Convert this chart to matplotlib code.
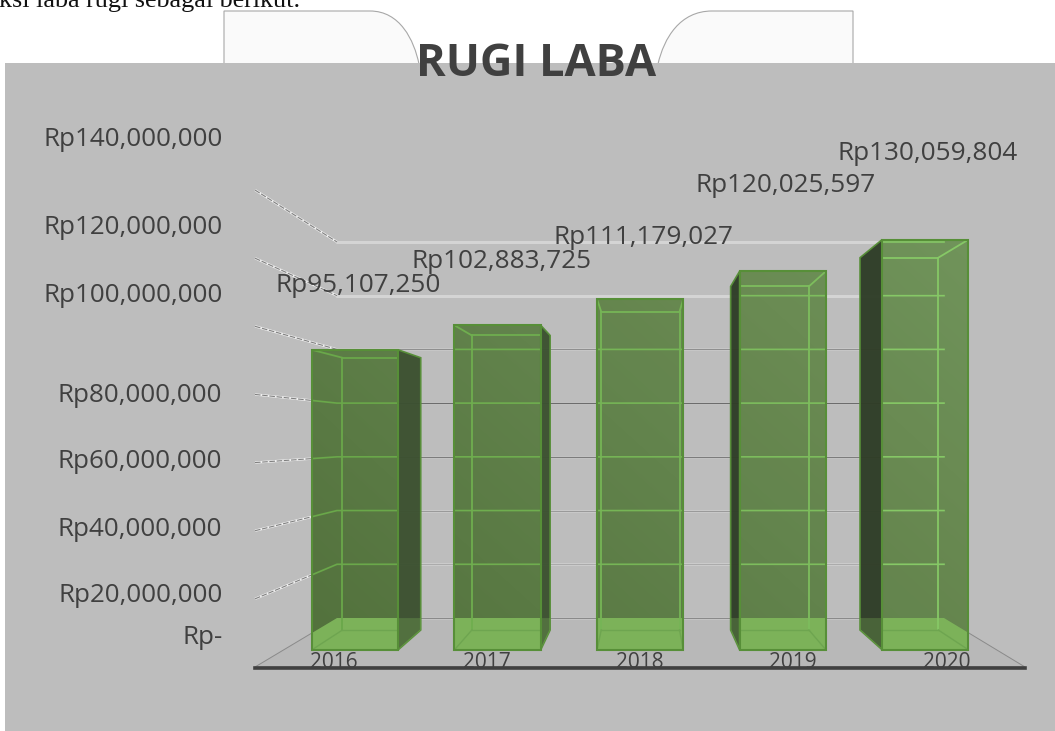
import numpy as np
import matplotlib
matplotlib.use('Agg')
import matplotlib.pyplot as plt
from matplotlib.colors import LinearSegmentedColormap
from matplotlib.patches import Polygon, PathPatch
from matplotlib.path import Path

# Data
years = ['2016', '2017', '2018', '2019', '2020']
values = [95107250, 102883725, 111179027, 120025597, 130059804]
value_labels = ['Rp95,107,250', 'Rp102,883,725', 'Rp111,179,027', 'Rp120,025,597', 'Rp130,059,804']
grid_values = [0, 20000000, 40000000, 60000000, 80000000, 100000000, 120000000, 140000000]
tick_labels = ['Rp-', 'Rp20,000,000', 'Rp40,000,000', 'Rp60,000,000', 'Rp80,000,000',
               'Rp100,000,000', 'Rp120,000,000', 'Rp140,000,000']

# Where Excel left the labels (pixels)
tick_label_y = [637, 596, 529, 462, 395, 296, 228, 140]
value_label_pos = [(276, 286), (411, 262), (554, 237), (695, 185), (837, 154)]
year_label_x = [334, 487, 640, 793, 947]
grid_colors = ['#8a8a8a', '#ababab', '#9a9a9a', '#7c7c7c', '#6c6c6c', '#8f8f8f', '#d4d4d4', '#d4d4d4']
line_colors = ['#6aa84a', '#6fae4f', '#76b556', '#7dbd5d', '#86c866']

TEXT = '#404040'
BG = '#bdbdbd'
EDGE = '#578f38'
FLOOR = '#7cb259'
D_FRONT, D_BACK = 0.35, 0.755
BAR_W = 0.121


def project(x, v, d):
    # x in 0..1 along the axis, v the value, d the depth (0 front wall, 1 back wall)
    left = 255 + 82 * d
    width = 770 - 163 * d
    base = 667 - 49 * d
    scale = (3.407 - 0.721 * d) * 1e-6
    return (left + width * x, base - v * scale)


plt.rcParams['font.family'] = ['Open Sans', 'DejaVu Sans']
fig = plt.figure(figsize=(10.55, 7.31), dpi=100, facecolor='white')
ax = fig.add_axes([0, 0, 1, 1])
ax.set_xlim(0, 1055)
ax.set_ylim(731, 0)
ax.axis('off')

# Text of the document behind the chart, and the tab shapes
ax.text(-1, 7, 'ksi laba rugi sebagai berikut.', family='Liberation Serif', fontsize=15.5 * 300 / 247,
        color='#111111', va='baseline', ha='left')
tab_left = Path([(224, 64), (224, 11), (370, 11), (400, 11), (414, 40), (419, 64)],
                [Path.MOVETO, Path.LINETO, Path.LINETO, Path.CURVE4, Path.CURVE4, Path.CURVE4])
tab_right = Path([(853, 64), (853, 11), (712, 11), (680, 11), (664, 38), (658, 64)],
                 [Path.MOVETO, Path.LINETO, Path.LINETO, Path.CURVE4, Path.CURVE4, Path.CURVE4])
for tab in (tab_left, tab_right):
    ax.add_patch(PathPatch(tab, facecolor='#fafafa', edgecolor='#a8a8a8', lw=0.8, zorder=1))

ax.add_patch(Polygon([(5, 63), (1055, 63), (1055, 731), (5, 731)], facecolor=BG, edgecolor='none', zorder=2))

# Floor
floor_pts = [project(0, 0, 0), project(1, 0, 0), project(1, 0, 1), project(0, 0, 1)]
ax.add_patch(Polygon(floor_pts, facecolor='#b8b8b8', edgecolor='#8a8a8a', lw=0.7, zorder=3))

# Walls and gridlines
for v, c in zip(grid_values, grid_colors):
    xs, ys = zip(project(0, v, 0), project(0, v, 1), project(1, v, 1))
    if v > 0:
        ax.plot(xs[:2], ys[:2], color='#efefef', lw=1.7, zorder=3, solid_capstyle='butt')
        ax.plot(xs[:2], ys[:2], color='#808080', lw=0.8, zorder=3.1, ls=(0, (5, 1.5)))
    ax.plot(xs[1:], ys[1:], color='#dcdcdc', lw=1.8, zorder=3)
    ax.plot(xs[1:], ys[1:], color=c, lw=1.0, zorder=3.1)

# Bars, the gradient runs over the whole plot
gx, gy = np.meshgrid(np.arange(300, 1000), np.arange(230, 660))
grad = 0.6 * (gx - 300) / 680 + 0.4 * (650 - gy) / 410
cmap = LinearSegmentedColormap.from_list('bar', ['#4f6f38', '#6f9358'])

for i, (year, val) in enumerate(zip(years, values)):
    x0 = (i + 0.5) / len(years) - BAR_W / 2
    x1 = x0 + BAR_W
    z = 4 + i
    line_c = line_colors[i]
    fbl, fbr = project(x0, 0, D_FRONT), project(x1, 0, D_FRONT)
    ftl, ftr = project(x0, val, D_FRONT), project(x1, val, D_FRONT)
    bbl, bbr = project(x0, 0, D_BACK), project(x1, 0, D_BACK)
    btl, btr = project(x0, val, D_BACK), project(x1, val, D_BACK)

    # outer side walls
    left_out = bbl[0] < fbl[0]
    right_out = bbr[0] > fbr[0]
    left_wall = Polygon([ftl, btl, bbl, fbl], facecolor='#2f3d27', edgecolor=EDGE, lw=1.2, alpha=0.97, zorder=z)
    right_wall = Polygon([ftr, btr, bbr, fbr], facecolor='#3c5130', edgecolor=EDGE, lw=1.2, alpha=0.97, zorder=z)
    if left_out:
        ax.add_patch(left_wall)
        floor_tint = Polygon(floor_pts, facecolor=FLOOR, edgecolor='none', alpha=0.3, zorder=z + 0.1)
        ax.add_patch(floor_tint)
        floor_tint.set_clip_path(left_wall)
    if right_out:
        ax.add_patch(right_wall)
        floor_tint = Polygon(floor_pts, facecolor=FLOOR, edgecolor='none', alpha=0.3, zorder=z + 0.1)
        ax.add_patch(floor_tint)
        floor_tint.set_clip_path(right_wall)

    # front face
    front = Polygon([ftl, ftr, fbr, fbl], facecolor='none', edgecolor='none', zorder=z + 0.2)
    ax.add_patch(front)
    im = ax.imshow(grad, extent=(300, 1000, 660, 230), cmap=cmap, vmin=0, vmax=1,
                   aspect='auto', zorder=z + 0.2, alpha=0.97)
    im.set_clip_path(front)

    # floor and gridlines seen through the bar
    seen = Polygon(floor_pts, facecolor=FLOOR, edgecolor='none', zorder=z + 0.3)
    ax.add_patch(seen)
    seen.set_clip_path(front)
    for v in grid_values[1:]:
        xs, ys = zip(project(0, v, 0), project(0, v, 1), project(1, v, 1))
        ln, = ax.plot(xs, ys, color=line_c, lw=1.2, zorder=z + 0.4)
        ln.set_clip_path(front)

    # back edges seen through the front
    for a, b in [(btl, btr), (btl, bbl), (btr, bbr), (ftl, btl), (ftr, btr)]:
        ln, = ax.plot([a[0], b[0]], [a[1], b[1]], color=line_c, lw=1.3, zorder=z + 0.5)
        ln.set_clip_path(front)
    for a, b in [(bbl, bbr), (fbl, bbl), (fbr, bbr)]:
        ln, = ax.plot([a[0], b[0]], [a[1], b[1]], color='#6ea550', lw=1.0, zorder=z + 0.5)
        ln.set_clip_path(front)

    ax.add_patch(Polygon([ftl, ftr, fbr, fbl], facecolor='none', edgecolor=EDGE, lw=1.5, zorder=z + 0.6))

ax.set_xlim(0, 1055)
ax.set_ylim(731, 0)

# Axis line and labels
axis_l, axis_r = project(0, 0, 0), project(1, 0, 0)
ax.plot([axis_l[0], axis_r[0]], [axis_l[1] + 1, axis_r[1] + 1], color=TEXT, lw=2.6, zorder=12)
for x, year in zip(year_label_x, years):
    ax.text(x, 663, year, ha='center', va='center', fontsize=15, color=TEXT, zorder=13)
for y, lab in zip(tick_label_y, tick_labels):
    ax.text(222.5, y, lab, ha='right', va='center', fontsize=18.7, color=TEXT, zorder=13)
for (x, y), lab in zip(value_label_pos, value_labels):
    ax.text(x, y, lab, ha='left', va='center', fontsize=18.8, color=TEXT, zorder=13)

ax.text(536.5, 65, 'RUGI LABA', ha='center', va='center', fontsize=32.5, fontweight='bold',
        color=TEXT, zorder=13)

fig.savefig('out.png', dpi=100)
